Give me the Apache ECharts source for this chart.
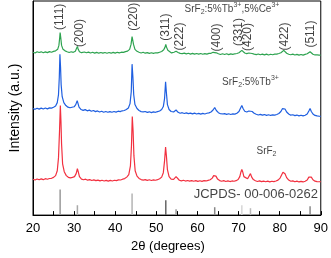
<!DOCTYPE html>
<html><head><meta charset="utf-8">
<script src="https://cdn.jsdelivr.net/npm/echarts@6/dist/echarts.min.js"></script>
<style>html,body{margin:0;padding:0;background:#fff}#c{width:331px;height:258px}</style>
</head><body><div id="c"></div>
<script>
// Intensity values (a.u., offset per trace) vs 2θ (degrees)
const green = [[20,165],[20.5,164.3],[21,165.6],[21.5,164.8],[22,165.5],[22.5,164.6],[23,165.4],[23.5,164.7],[24,165.7],[24.5,165.1],[25,165.9],[25.5,166.5],[26,168],[26.3,172],[26.5,180],[26.6,185],[26.75,180],[26.95,172],[27.3,168],[27.8,166.5],[28.3,165.6],[28.8,164.8],[29.3,165.6],[29.8,165],[30.3,166],[30.6,168],[30.8,171],[31.0,168],[31.3,165.6],[31.8,164.6],[32.5,165.3],[33,164.5],[33.5,165.2],[34,164.3],[34.5,165],[35,164.2],[35.5,164.9],[36,164.1],[36.5,164.8],[37,164.1],[37.5,164.8],[38,164],[38.5,164.8],[39,164.1],[39.5,164.9],[40,164.2],[40.5,165],[41,164.4],[41.5,165.1],[42,164.9],[42.5,165.7],[43,166.2],[43.5,168],[43.85,173],[44.1,181],[44.25,180],[44.45,173],[44.8,168],[45.3,166],[45.8,165],[46.3,164.3],[46.8,165],[47.3,164.1],[47.8,164.7],[48.3,163.9],[48.8,164.6],[49.3,163.9],[49.8,164.5],[50.3,164.4],[50.8,165.1],[51.3,165.8],[51.8,167.5],[52.1,170],[52.3,173],[52.5,170],[52.8,167],[53.2,165.2],[53.7,164.4],[54.3,165.1],[54.8,166],[55.3,164.8],[55.8,163.9],[56.3,163.7],[56.8,164.1],[57.3,163.4],[57.8,164],[58.3,163.2],[58.8,163.9],[59.3,163.1],[59.8,163.8],[60.3,163.1],[60.8,163.8],[61.3,163],[61.8,163.7],[62.3,163.2],[62.8,163.9],[63.3,164],[63.8,165],[64.2,165.5],[64.6,164.5],[65.1,163.5],[65.6,162.8],[66.1,163.5],[66.6,162.8],[67.1,163.5],[67.6,162.7],[68.1,163.4],[68.6,162.9],[69.1,163.5],[69.6,163.8],[70.1,164.5],[70.5,166],[70.8,167],[71.1,165.5],[71.5,164.3],[72,163.7],[72.5,164.3],[72.9,164.8],[73.3,163.8],[73.8,163.1],[74.3,162.7],[74.8,163.3],[75.3,162.5],[75.8,163.2],[76.3,162.4],[76.8,163.1],[77.3,162.3],[77.8,163],[78.3,162.5],[78.8,163.1],[79.3,163.2],[79.8,163.8],[80.3,164.5],[80.7,166],[81,167],[81.3,165.5],[81.7,164],[82.2,163],[82.7,162.5],[83.2,163.1],[83.7,162.3],[84.2,162.9],[84.7,162.1],[85.2,162.8],[85.7,162.1],[86.2,162.9],[86.7,163.5],[87.1,164.8],[87.4,165.5],[87.7,164.2],[88.1,163],[88.6,162.3],[89.1,162.4],[89.6,162.2],[90,162]];
const blue = [[20,108],[20.5,107.2],[21,108.3],[21.5,107.4],[22,108.4],[22.5,107.5],[23,108.5],[23.5,107.7],[24,108.7],[24.5,108.4],[25,109.3],[25.5,110.5],[25.9,114],[26.2,122],[26.4,140],[26.55,163],[26.7,150],[26.85,132],[27.1,120],[27.5,114],[28,111],[28.5,109.4],[29,108.8],[29.5,109.3],[30,109.8],[30.4,112],[30.75,116],[30.95,114],[31.2,109.5],[31.7,107],[32.2,106.1],[32.7,106.9],[33.2,105.7],[33.7,106.4],[34.2,105.3],[34.7,106],[35.2,104.9],[35.7,105.6],[36.2,104.5],[36.7,105.3],[37.2,104.3],[37.7,105],[38.2,104.2],[38.7,104.9],[39.2,104.2],[39.7,105],[40.2,104.4],[40.7,105.3],[41.2,104.9],[41.7,105.7],[42.2,106],[42.7,107],[43.2,108.5],[43.6,113],[43.9,125],[44.1,153],[44.3,140],[44.5,122],[44.8,112],[45.3,108],[45.8,106],[46.3,104.9],[46.8,104.6],[47.3,105],[47.8,104.1],[48.3,104.7],[48.8,103.9],[49.3,104.6],[49.8,104.2],[50.3,104.9],[50.8,105.5],[51.3,107],[51.7,110],[52,118],[52.25,135],[52.45,124],[52.7,112],[53.1,107],[53.6,105],[54.2,104.6],[54.8,106.5],[55.3,104.2],[55.8,103.2],[56.3,103.8],[56.8,103],[57.3,103.6],[57.8,102.8],[58.3,103.4],[58.8,102.6],[59.3,103.3],[59.8,102.5],[60.3,103.1],[60.8,102.4],[61.3,103.1],[61.8,102.5],[62.3,103.2],[62.8,103.6],[63.3,104.5],[63.8,106.5],[64.2,109],[64.6,106],[65.1,103.8],[65.6,102.7],[66.1,102.5],[66.6,102.9],[67.1,102.1],[67.6,102.7],[68.1,102],[68.6,102.6],[69.1,102.4],[69.6,103.2],[70.1,105],[70.5,108.5],[70.8,111],[71.1,108],[71.5,105.2],[72,104.5],[72.5,105.5],[72.9,107],[73.3,105],[73.8,103.2],[74.3,102.2],[74.8,101.5],[75.3,102.1],[75.8,101.3],[76.3,101.9],[76.8,101.1],[77.3,101.7],[77.8,101],[78.3,101.6],[78.8,101.4],[79.3,102],[79.8,103],[80.3,105],[80.7,108],[81,110],[81.3,107.5],[81.7,104.5],[82.2,102.5],[82.7,101.3],[83.2,101.7],[83.7,100.8],[84.2,101.4],[84.7,100.6],[85.2,101.2],[85.7,100.5],[86.2,101.2],[86.7,102.5],[87.1,105.5],[87.4,108],[87.7,105],[88.1,102.5],[88.6,101],[89.1,100.5],[89.6,100.2],[90,100]];
const red = [[20,36.3],[20.5,35.6],[21,36.6],[21.5,35.8],[22,36.7],[22.5,35.9],[23,36.9],[23.5,36.3],[24,37.1],[24.5,37.3],[25,38.2],[25.5,40],[25.9,45],[26.2,58],[26.45,85],[26.65,111],[26.8,95],[26.95,72],[27.2,52],[27.6,44],[28.1,40],[28.6,38.3],[29.1,37.7],[29.6,38.3],[30.1,39],[30.5,42],[30.8,47],[31.0,44],[31.3,39],[31.8,36.5],[32.3,35.8],[32.8,36.4],[33.3,35.4],[33.8,36],[34.3,35.1],[34.8,35.7],[35.3,34.9],[35.8,35.5],[36.3,34.7],[36.8,35.3],[37.3,34.6],[37.8,35.2],[38.3,34.5],[38.8,35.2],[39.3,34.6],[39.8,35.3],[40.3,35],[40.8,35.7],[41.3,35.6],[41.8,36.4],[42.3,37],[42.8,38.5],[43.3,41],[43.7,50],[43.95,70],[44.15,100],[44.35,85],[44.55,60],[44.85,45],[45.3,39.5],[45.8,37.2],[46.3,36],[46.8,35.5],[47.3,36],[47.8,35.2],[48.3,35.8],[48.8,35.1],[49.3,35.7],[49.8,35.3],[50.3,35.9],[50.8,36.8],[51.3,38.5],[51.7,43],[52,55],[52.25,69],[52.45,60],[52.7,46],[53.1,39],[53.6,36.5],[54.2,36.3],[54.5,37.5],[54.8,39],[55.1,37.2],[55.6,35.3],[56.1,34.7],[56.6,35.3],[57.1,34.5],[57.6,35.1],[58.1,34.4],[58.6,35],[59.1,34.3],[59.6,34.9],[60.1,34.2],[60.6,34.8],[61.1,34.2],[61.6,34.9],[62.1,34.6],[62.6,35.2],[63.1,35.8],[63.6,37.5],[63.95,40],[64.2,41.3],[64.5,39.5],[64.9,36.5],[65.4,35],[65.9,34.3],[66.4,34.9],[66.9,34.1],[67.4,34.7],[67.9,34],[68.4,34.6],[68.9,34.3],[69.4,34.9],[69.9,36],[70.3,39],[70.6,44],[70.8,46.3],[71.0,44],[71.3,39],[71.7,37],[72.2,36.8],[72.6,38.5],[72.9,42],[73.2,38.5],[73.6,36],[74.1,34.8],[74.6,34.1],[75.1,34.7],[75.6,33.9],[76.1,34.5],[76.6,33.8],[77.1,34.4],[77.6,33.7],[78.1,34.3],[78.6,34],[79.1,34.6],[79.6,35.5],[80.1,37.5],[80.5,41],[80.8,43.5],[81.0,44],[81.3,42],[81.7,38],[82.2,35.5],[82.7,34.3],[83.2,34.7],[83.7,33.8],[84.2,34.4],[84.7,33.6],[85.2,34.2],[85.7,33.6],[86.2,34.3],[86.7,35.5],[87.1,38.5],[87.4,40.3],[87.7,38.5],[88.1,35.8],[88.6,34.4],[89.1,34],[89.6,33.8],[90,34]];
// JCPDS 00-006-0262 reference lines
const refAngles = [26.6, 30.8, 44.1, 52.3, 54.8, 64.2, 70.8, 72.9, 87.4];
const refHeights = [26, 10, 22, 15, 6, 8, 10, 7, 9];
// Miller indices
const hklNames = ['(111)','(200)','(220)','(311)','(222)','(400)','(331)','(420)','(422)','(511)'];
const hklAnchors = [[26.6,201],[31.4,184.5],[44.4,201],[52.35,190.5],[55.7,181],[64.6,180],[70.1,185.5],[72.2,180.5],[81.2,181],[87.5,183.5]];
const xTicks = [20, 30, 40, 50, 60, 70, 80, 90];

const FONT = 'Liberation Sans, Arial, sans-serif';
const refShades = ['#9a9a9a','#a8a8a8','#b4b4b4','#666666','#9a9a9a','#888888','#d6d6d6','#bbbbbb','#8a8a8a'];
const rich = {
  n: {fontSize: 10, fontFamily: FONT, color: '#111', lineHeight: 14, verticalAlign: 'middle'},
  b: {fontSize: 7, fontFamily: FONT, color: '#111', lineHeight: 6, verticalAlign: 'bottom'},
  p: {fontSize: 7, fontFamily: FONT, color: '#111', lineHeight: 7, verticalAlign: 'top'}
};
const sampleLabels = [
  {value: [68.4, 209], text: '{n|SrF}{b|2}{n|:5%Tb}{p|3+}{n|,5%Ce}{p|3+}'},
  {value: [72.9, 135], text: '{n|SrF}{b|2}{n|:5%Tb}{p|3+}'},
  {value: [76.8, 65], text: '{n|SrF}{b|2}'}
];

const chart = echarts.init(document.getElementById('c'), null, {renderer: 'canvas'});
chart.setOption({
  animation: false,
  grid: {left: 27, right: 9, top: 1, bottom: 40, show: true, borderColor: '#000', borderWidth: 1},
  xAxis: {
    type: 'value', min: xTicks[0], max: xTicks[xTicks.length - 1], interval: 10,
    axisLine: {lineStyle: {color: '#000', width: 1}},
    axisTick: {inside: true, length: 4, lineStyle: {color: '#000'}},
    minorTick: {show: true, splitNumber: 2, length: 4, lineStyle: {color: '#000'}},
    splitLine: {show: false},
    axisLabel: {fontSize: 13, color: '#000', margin: 7, fontFamily: FONT},
    name: '2θ (degrees)', nameLocation: 'middle', nameGap: 23,
    nameTextStyle: {fontSize: 13, color: '#000', fontFamily: FONT, padding: [0, 18, 0, 0]}
  },
  yAxis: {
    type: 'value', min: 0, max: 217,
    axisLine: {show: true, lineStyle: {color: '#000'}},
    axisTick: {show: false}, axisLabel: {show: false}, splitLine: {show: false},
    name: 'Intensity (a.u.)', nameLocation: 'middle', nameGap: 11,
    nameTextStyle: {fontSize: 14, color: '#000', fontFamily: FONT}
  },
  series: [
    {type: 'bar', barWidth: 1.5, z: 1,
     data: refAngles.map((a, i) => ({value: [a, refHeights[i]], itemStyle: {color: refShades[i]}}))},
    {type: 'line', data: red, showSymbol: false, lineStyle: {color: '#f2303f', width: 1.2}, z: 2},
    {type: 'line', data: blue, showSymbol: false, lineStyle: {color: '#1f5fe0', width: 1.2}, z: 3},
    {type: 'line', data: green, showSymbol: false, lineStyle: {color: '#2ea350', width: 1.2}, z: 4},
    {type: 'scatter', symbolSize: 0, z: 5, silent: true,
     data: hklAnchors.map((p, i) => ({value: p, name: hklNames[i]})),
     label: {show: true, position: 'inside', rotate: 90, formatter: p => p.name,
             fontSize: 12, fontFamily: FONT, color: '#111'}},
    {type: 'scatter', symbolSize: 0, z: 5, silent: true,
     data: sampleLabels.map(s => ({value: s.value, name: s.text})),
     label: {show: true, position: 'inside', formatter: p => p.name, rich: rich}},
    {type: 'scatter', symbolSize: 0, z: 5, silent: true,
     data: [{value: [74.2, 21], name: 'JCPDS- 00-006-0262'}],
     label: {show: true, position: 'inside', formatter: p => p.name,
             fontSize: 13, fontFamily: FONT, color: '#111'}}
  ]
});
</script></body></html>
